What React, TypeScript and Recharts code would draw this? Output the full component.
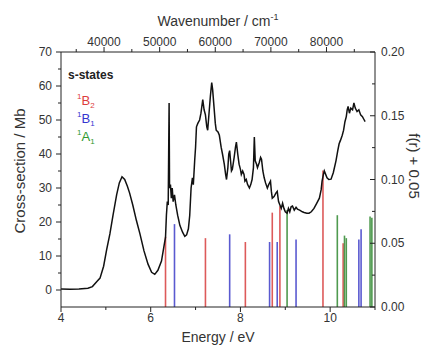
import React from "react";
import { ComposedChart, Line, XAxis, YAxis, ReferenceLine } from "recharts";

const FONT = "'Liberation Sans', Arial, sans-serif";
const EV_TO_CM = 8065.54;

// photoabsorption spectrum (Energy / eV -> cross-section / Mb)
const energy = [
  4.0, 4.2, 4.4, 4.6, 4.7, 4.8, 4.87, 4.95, 5.02, 5.09, 5.16, 5.24, 5.3, 5.36, 5.42, 5.48, 5.53, 5.6,
  5.68, 5.76, 5.85, 5.94, 6.02, 6.09, 6.16, 6.24, 6.31, 6.33, 6.35, 6.37, 6.39, 6.4, 6.41, 6.42, 6.44,
  6.46, 6.48, 6.5, 6.53, 6.56, 6.6, 6.65, 6.71, 6.76, 6.8, 6.84, 6.87, 6.9, 6.93, 6.95, 6.98, 7.0,
  7.02, 7.05, 7.09, 7.12, 7.16, 7.19, 7.22, 7.25, 7.27, 7.3, 7.33, 7.36, 7.38, 7.41, 7.44, 7.46, 7.5,
  7.53, 7.57, 7.6, 7.64, 7.67, 7.69, 7.72, 7.74, 7.76, 7.78, 7.8, 7.82, 7.86, 7.89, 7.91, 7.94, 7.97,
  8.0, 8.02, 8.05, 8.08, 8.1, 8.13, 8.16, 8.2, 8.23, 8.26, 8.29, 8.31, 8.33, 8.36, 8.38, 8.42, 8.45,
  8.47, 8.5, 8.53, 8.56, 8.6, 8.63, 8.67, 8.69, 8.71, 8.75, 8.79, 8.82, 8.85, 8.88, 8.91, 8.94, 8.97,
  9.0, 9.04, 9.07, 9.1, 9.13, 9.16, 9.2, 9.24, 9.27, 9.32, 9.38, 9.42, 9.48, 9.53, 9.58, 9.64, 9.7,
  9.76, 9.8, 9.82, 9.85, 9.87, 9.9, 9.93, 9.97, 10.02, 10.07, 10.13, 10.17, 10.2, 10.23, 10.27, 10.3,
  10.33, 10.36, 10.38, 10.4, 10.43, 10.46, 10.5, 10.53, 10.56, 10.6, 10.64, 10.68, 10.72, 10.76, 10.78,
];
const crossSection = [
  0.3, 0.2, 0.3, 0.5, 1.0, 2.5, 3.5, 7, 12, 16.5, 22, 28, 31.5, 33.3, 32.5, 30.5, 28.5, 25,
  20.5, 16.5, 11.5, 7.6, 5.2, 4.6, 5.8, 8.5, 14, 15.5, 22, 26, 25, 40, 55, 30, 31,
  27, 30, 26, 28, 25, 22, 19, 17, 15.8, 16.2, 18, 22, 30, 33, 31, 38, 42,
  48, 49, 50, 52, 56, 53, 51.5, 48, 47, 52, 57, 61, 59, 54, 49, 47, 46.5,
  45.5, 42, 40, 37, 34, 32.5, 36, 40, 41, 38, 35, 35.5, 39, 42, 43.5, 40, 37,
  35.5, 34, 35, 34, 32, 32.5, 31, 30, 31, 32.5, 36, 45, 38, 37, 36, 37.5, 39,
  38.5, 35, 33, 31.5, 30, 31, 32, 29, 27, 27.5, 28.5, 29, 26, 25, 24, 25.5, 24,
  23, 22.6, 24, 23, 24.5, 24.7, 23.5, 24.3, 23.8, 23.5, 23, 22.8, 22.6, 22.6, 23, 24, 25.5,
  27, 29.5, 32, 34, 35, 34, 33, 32.5, 32.6, 34.5, 38, 41, 43, 44, 45.5, 47,
  49.5, 51, 53, 54, 52, 53.5, 53, 55, 53.5, 52.5, 53, 51.5, 51, 50, 49.5,
];
const spectrum = energy.map((e, i) => ({ e, wn: e * EV_TO_CM, v: crossSection[i] }));

// calculated s-states, oscillator strength f(r) + 0.05
const b2Energy = [6.33, 7.22, 8.11, 8.71, 8.88, 9.84, 10.29];
const b2Strength = [0.055, 0.054, 0.051, 0.074, 0.079, 0.107, 0.05];
const b1Energy = [6.53, 7.76, 8.65, 8.82, 9.24, 10.64, 10.69];
const b1Strength = [0.065, 0.057, 0.051, 0.051, 0.053, 0.053, 0.061];
const a1Energy = [9.04, 10.16, 10.32, 10.36, 10.89, 10.93];
const a1Strength = [0.076, 0.072, 0.056, 0.054, 0.071, 0.07];

const bottomTicks = [4, 5, 6, 7, 8, 9, 10, 11];
const topTicks = [35000, 40000, 45000, 50000, 55000, 60000, 65000, 70000, 75000, 80000, 85000];
const leftTicks = [0, 5, 10, 15, 20, 25, 30, 35, 40, 45, 50, 55, 60, 65, 70];
const rightTicks = [0, 0.025, 0.05, 0.075, 0.1, 0.125, 0.15, 0.175, 0.2];

const AXIS = "#222";
const LABEL = "#333";
const RED = "#dd5a5a";
const BLUE = "#5a5ad0";
const GREEN = "#4f9a4f";

const sticks = [
  ...b2Energy.map((e, i) => ({ e, f: b2Strength[i], c: RED })),
  ...b1Energy.map((e, i) => ({ e, f: b1Strength[i], c: BLUE })),
  ...a1Energy.map((e, i) => ({ e, f: a1Strength[i], c: GREEN })),
];

const BottomTick = (props: any) => {
  const { x, y, payload } = props;
  const major = payload.value % 2 === 0 && payload.value !== 11;
  return (
    <g>
      <line x1={x} x2={x} y1={y} y2={y + (major ? 5 : 3)} stroke={AXIS} />
      {major && (
        <text x={x} y={y + 15} textAnchor="middle" fontSize={12} fill={LABEL} fontFamily={FONT}>
          {payload.value}
        </text>
      )}
    </g>
  );
};

const TopTick = (props: any) => {
  const { x, y, payload } = props;
  const major = payload.value % 10000 === 0;
  return (
    <g>
      <line x1={x} x2={x} y1={y} y2={y - (major ? 5 : 3)} stroke={AXIS} />
      {major && (
        <text x={x} y={y - 6} textAnchor="middle" fontSize={12} fill={LABEL} fontFamily={FONT}>
          {payload.value}
        </text>
      )}
    </g>
  );
};

const LeftTick = (props: any) => {
  const { x, y, payload } = props;
  const major = payload.value % 10 === 0;
  return (
    <g>
      <line x1={x} x2={x - (major ? 5 : 3)} y1={y} y2={y} stroke={AXIS} />
      {major && (
        <text x={x - 9} y={y + 4} textAnchor="end" fontSize={12} fill={LABEL} fontFamily={FONT}>
          {payload.value}
        </text>
      )}
    </g>
  );
};

const RightTick = (props: any) => {
  const { x, y, payload } = props;
  const major = Math.round(payload.value * 1000) % 50 === 0;
  return (
    <g>
      <line x1={x} x2={x - (major ? 5 : 3)} y1={y} y2={y} stroke={AXIS} />
      {major && (
        <text x={x + 6} y={y + 4} textAnchor="start" fontSize={12} fill={LABEL} fontFamily={FONT}>
          {payload.value.toFixed(2)}
        </text>
      )}
    </g>
  );
};

export default function App() {
  return (
    <div style={{ position: "absolute", left: 0, top: 0, width: 425, height: 347, background: "#fff" }}>
      <ComposedChart width={425} height={347} data={spectrum} margin={{ top: 0, right: 0, bottom: 0, left: 0 }}>
        <XAxis
          xAxisId="bottom"
          dataKey="e"
          type="number"
          domain={[4, 11]}
          allowDataOverflow
          ticks={bottomTicks}
          interval={0}
          height={40}
          tickSize={0}
          tickMargin={0}
          tick={BottomTick}
          stroke={AXIS}
        />
        <XAxis
          xAxisId="top"
          dataKey="wn"
          orientation="top"
          type="number"
          domain={[4 * EV_TO_CM, 11 * EV_TO_CM]}
          allowDataOverflow
          ticks={topTicks}
          interval={0}
          height={52}
          tickSize={0}
          tickMargin={0}
          tick={TopTick}
          stroke={AXIS}
        />
        <YAxis
          yAxisId="left"
          type="number"
          domain={[-5, 70]}
          allowDataOverflow
          ticks={leftTicks}
          interval={0}
          width={61}
          tickSize={0}
          tickMargin={0}
          tick={LeftTick}
          stroke={AXIS}
        />
        <YAxis
          yAxisId="right"
          orientation="right"
          type="number"
          domain={[0, 0.2]}
          allowDataOverflow
          ticks={rightTicks}
          interval={0}
          width={50}
          tickSize={0}
          tickMargin={0}
          tick={RightTick}
          stroke={AXIS}
        />
        {sticks.map((s, i) => (
          <ReferenceLine
            key={i}
            xAxisId="bottom"
            yAxisId="right"
            segment={[{ x: s.e, y: 0 }, { x: s.e, y: s.f }]}
            stroke={s.c}
            strokeWidth={1.6}
            ifOverflow="visible"
          />
        ))}
        {/* same spectrum on the wavenumber axis, invisible; keeps the top axis scaled */}
        <Line
          xAxisId="top"
          yAxisId="left"
          dataKey="v"
          type="linear"
          stroke="none"
          dot={false}
          activeDot={false}
          isAnimationActive={false}
        />
        <Line
          xAxisId="bottom"
          yAxisId="left"
          dataKey="v"
          type="linear"
          stroke="#111"
          strokeWidth={1.5}
          dot={false}
          isAnimationActive={false}
        />
      </ComposedChart>
      <svg
        width={425}
        height={347}
        style={{ position: "absolute", left: 0, top: 0, pointerEvents: "none" }}
        fontFamily={FONT}
      >
        <text x={218} y={26} textAnchor="middle" fontSize={14} fill={LABEL}>
          Wavenumber / cm<tspan fontSize={9} dy={-6}>-1</tspan>
        </text>
        <text x={218} y={342} textAnchor="middle" fontSize={14} fill={LABEL}>
          Energy / eV
        </text>
        <text transform="translate(25,171) rotate(-90)" textAnchor="middle" fontSize={15} fill={LABEL}>
          Cross-section / Mb
        </text>
        <text transform="translate(409,166) rotate(90)" textAnchor="middle" fontSize={15} fill={LABEL}>
          f(r) + 0.05
        </text>
        <text x={68} y={79} fontSize={12} fontWeight="bold" fill="#222">
          s-states
        </text>
        <text x={77} y={105} fontSize={13} fill="#dd3c3c">
          <tspan fontSize={8} dy={-6}>1</tspan>
          <tspan dy={6}>B</tspan>
          <tspan fontSize={8} dy={3}>2</tspan>
        </text>
        <text x={77} y={123} fontSize={13} fill="#3535d0">
          <tspan fontSize={8} dy={-6}>1</tspan>
          <tspan dy={6}>B</tspan>
          <tspan fontSize={8} dy={3}>1</tspan>
        </text>
        <text x={77} y={141} fontSize={13} fill="#2f9a2f">
          <tspan fontSize={8} dy={-6}>1</tspan>
          <tspan dy={6}>A</tspan>
          <tspan fontSize={8} dy={3}>1</tspan>
        </text>
      </svg>
    </div>
  );
}
